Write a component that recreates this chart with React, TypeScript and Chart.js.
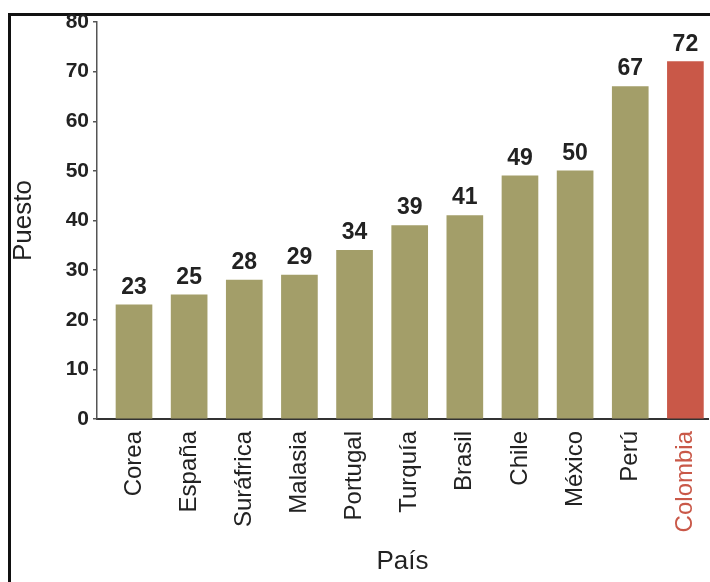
import React, { useEffect, useRef } from "react";
import { Chart, registerables } from "chart.js";

Chart.register(...registerables);

const categories = ["Corea", "España", "Suráfrica", "Malasia", "Portugal", "Turquía", "Brasil", "Chile", "México", "Perú", "Colombia"];
const values = [23, 25, 28, 29, 34, 39, 41, 49, 50, 67, 72];
const highlight = "Colombia";
const yTitle = "Puesto";
const xTitle = "País";

const OLIVE = "#a39e69";
const RED = "#c95848";
const FONT = '"Liberation Sans", Arial, Helvetica, sans-serif';

const labelPlugin = {
  id: "barLabels",
  afterDatasetsDraw(chart: any) {
    const ctx = chart.ctx;
    const meta = chart.getDatasetMeta(0);
    ctx.save();
    ctx.font = `bold 23px ${FONT}`;
    ctx.fillStyle = "#222";
    ctx.textAlign = "center";
    ctx.textBaseline = "bottom";
    meta.data.forEach((el: any, i: number) => {
      ctx.fillText(String(values[i]), el.x, el.y - 6);
    });
    ctx.restore();
  },
};

export default function App() {
  const ref = useRef<HTMLCanvasElement>(null);
  useEffect(() => {
    if (!ref.current) return;
    const chart = new Chart(ref.current, {
      type: "bar",
      data: {
        datasets: [
          {
            data: values.map((v, i) => ({ x: i, y: v })),
            backgroundColor: categories.map((c) => (c === highlight ? RED : OLIVE)),
            borderWidth: 0,
            barThickness: 36,
          },
        ],
      },
      options: {
        animation: false,
        responsive: true,
        maintainAspectRatio: false,
        layout: { padding: { top: 22, right: 2, left: 0, bottom: 0 } },
        plugins: { legend: { display: false }, tooltip: { enabled: false } },
        scales: {
          x: {
            type: "linear",
            min: -0.671,
            max: 10.41,
            offset: false,
            grid: { display: true, drawOnChartArea: false, drawTicks: false, offset: false },
            border: { display: true, color: "#333", width: 2 },
            ticks: {
              stepSize: 1,
              includeBounds: false,
              autoSkip: false,
              minRotation: 90,
              maxRotation: 90,
              padding: 12,
              font: { family: FONT, size: 24 },
              color: (ctx: any) => (categories[ctx.tick?.value] === highlight ? RED : "#222"),
              callback: (v: any) => categories[v] ?? "",
            },
            title: {
              display: true,
              text: xTitle,
              font: { family: FONT, size: 26 },
              color: "#222",
              padding: { top: 0, bottom: 5 },
            },
            afterFit: (s: any) => {
              s.height = 163;
              s.paddingLeft = 0;
              s.paddingRight = 0;
            },
          },
          y: {
            min: 0,
            max: 80,
            grid: { display: true, drawOnChartArea: false, drawTicks: true, tickLength: 4, color: "#555", lineWidth: 1.5 },
            border: { display: true, color: "#555", width: 1.5 },
            ticks: {
              stepSize: 10,
              padding: 4,
              font: { family: FONT, size: 21, weight: "bold" },
              color: "#222",
            },
            title: {
              display: true,
              text: yTitle,
              font: { family: FONT, size: 26 },
              color: "#222",
              padding: { top: 8, bottom: 0 },
            },
            afterFit: (s: any) => {
              s.width = 97;
              s.paddingTop = 0;
              s.paddingBottom = 0;
            },
          },
        },
      } as any,
      plugins: [labelPlugin],
    });
    return () => chart.destroy();
  }, []);

  return (
    <div style={{ position: "absolute", left: 0, top: 0, width: 710, height: 582, background: "#fff", overflow: "hidden" }}>
      <div
        style={{
          position: "absolute",
          left: 8,
          top: 13,
          right: -10,
          bottom: -10,
          borderTop: "3px solid #111",
          borderLeft: "3px solid #111",
        }}
      />
      <div style={{ position: "absolute", left: 0, top: 0, width: 710, height: 582 }}>
        <canvas ref={ref} />
      </div>
    </div>
  );
}
